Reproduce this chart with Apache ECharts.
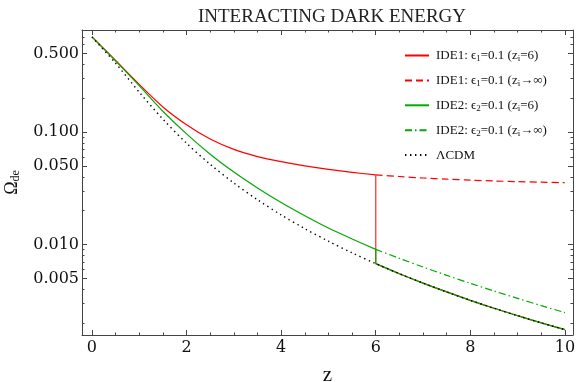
<!DOCTYPE html>
<html><head><meta charset="utf-8">
<script src="https://cdn.jsdelivr.net/npm/echarts@6/dist/echarts.min.js"></script>
<style>html,body{margin:0;padding:0;background:#fff}#c{width:576px;height:382px}</style>
</head><body><div id="c"></div>
<script>
// ---- data ----
const zHead = [0, 0.5, 1, 1.5, 2, 2.5, 3, 3.5, 4, 4.5, 5, 5.5, 6];
const ide1Head = [0.700, 0.432, 0.265, 0.167, 0.1160, 0.0865, 0.0700, 0.0605, 0.0545, 0.0500, 0.0465, 0.0438, 0.0415];
const ide2Head = [0.700, 0.429, 0.258, 0.153, 0.0962, 0.0635, 0.0440, 0.0318, 0.0236, 0.0180, 0.0140, 0.0112, 0.00906];
const zAll = [0, 0.5, 1, 1.5, 2, 2.5, 3, 3.5, 4, 4.5, 5, 5.5, 6, 6.5, 7, 7.5, 8, 8.5, 9, 9.5, 10];
const lcdm = [0.700, 0.409, 0.226, 0.130, 0.0795, 0.0516, 0.0352, 0.0250, 0.01832, 0.01383, 0.01069, 0.00843, 0.00676,
              0.00550, 0.00454, 0.00379, 0.00319, 0.00271, 0.00233, 0.00201, 0.00175];
const zTail = [6, 6.5, 7, 7.5, 8, 8.5, 9, 9.5, 10];
const ide1Tail = [0.0415, 0.0402, 0.0390, 0.0381, 0.0373, 0.0367, 0.0362, 0.0358, 0.0354];
const ide2Tail = [0.00906, 0.00753, 0.00631, 0.00532, 0.00452, 0.00386, 0.00332, 0.00286, 0.00248];
const zSwitch = 6;
const xMajorTicks = [0, 2, 4, 6, 8, 10];
const xMinorTicks = [0.5, 1, 1.5, 2.5, 3, 3.5, 4.5, 5, 5.5, 6.5, 7, 7.5, 8.5, 9, 9.5];
const yMajorTicks = [0.005, 0.01, 0.05, 0.1, 0.5];
const yMinorTicks = [0.002, 0.003, 0.004, 0.006, 0.007, 0.008, 0.009, 0.02, 0.03, 0.04, 0.06, 0.07, 0.08, 0.09, 0.2, 0.3, 0.4, 0.6, 0.7, 0.8];
const titleText = 'INTERACTING DARK ENERGY';
const names = ['IDE1a', 'IDE1b', 'IDE2a', 'IDE2b', 'LCDM'];
const legendLabels = {
  IDE1a: '{n|IDE1: ϵ}{s|1}{n|=0.1 (z}{s|i}{n|=6)}',
  IDE1b: '{n|IDE1: ϵ}{s|1}{n|=0.1 (z}{s|i}{n|→∞)}',
  IDE2a: '{n|IDE2: ϵ}{s|2}{n|=0.1 (z}{s|i}{n|=6)}',
  IDE2b: '{n|IDE2: ϵ}{s|2}{n|=0.1 (z}{s|i}{n|→∞)}',
  LCDM: '{n|ΛCDM}'
};

// ---- layout / style ----
const XMIN = -0.21, XMAX = 10.17;
const YMIN = 0.001569, YMAX = 0.8065;
const FRAME = '#444';
const TXT = '#111';
const SERIF = "'Liberation Serif','DejaVu Serif',serif";
const TICKFONT = "'DejaVu Serif',serif";
const RED = '#ff0000', GREEN = '#00aa00';

const pairs = (xs, ys) => xs.map((x, i) => [x, ys[i]]);
const iSw = zAll.indexOf(zSwitch);
const lcdmTail = pairs(zAll.slice(iSw), lcdm.slice(iSw));
const lcdmAtSwitch = lcdm[iSw];
const L10 = v => Math.log10(v);

function xAx(pos, major) {
  return {
    type: 'value', min: XMIN, max: XMAX, position: pos,
    axisLine: { show: major, onZero: false, lineStyle: { color: FRAME, width: 1 } },
    axisTick: { show: true, inside: true, length: major ? 5 : 2.5, customValues: major ? xMajorTicks : xMinorTicks, lineStyle: { color: FRAME, width: 1 } },
    axisLabel: (major && pos === 'bottom') ? { show: true, customValues: xMajorTicks, fontFamily: TICKFONT, fontSize: 16, color: TXT, margin: 5 } : { show: false },
    splitLine: { show: false }
  };
}
function yAx(pos, major) {
  return {
    type: 'value', min: L10(YMIN), max: L10(YMAX), position: pos,
    axisLine: { show: major, onZero: false, lineStyle: { color: FRAME, width: 1 } },
    axisTick: { show: true, inside: true, length: major ? 5 : 2.5, customValues: (major ? yMajorTicks : yMinorTicks).map(L10), lineStyle: { color: FRAME, width: 1 } },
    axisLabel: (major && pos === 'left') ? { show: true, customValues: yMajorTicks.map(L10), formatter: v => Math.pow(10, v).toFixed(3), fontFamily: TICKFONT, fontSize: 16, color: TXT, margin: 3 } : { show: false },
    splitLine: { show: false }
  };
}

const xAxes = [xAx('bottom', true), xAx('bottom', false), xAx('top', true), xAx('top', false)];
xAxes[0].name = 'z';
xAxes[0].nameLocation = 'middle';
xAxes[0].nameGap = 30;
xAxes[0].nameTextStyle = { fontFamily: SERIF, fontSize: 21, color: TXT };

const yAxes = [
  { type: 'log', logBase: 10, min: YMIN, max: YMAX, show: false },
  yAx('left', true), yAx('left', false), yAx('right', true), yAx('right', false)
];
yAxes[1].name = '{o|Ω}{d|de}';
yAxes[1].nameLocation = 'middle';
yAxes[1].nameRotate = 90;
yAxes[1].nameGap = 56;
yAxes[1].nameTextStyle = {
  rich: {
    o: { fontFamily: SERIF, fontSize: 18, color: TXT, lineHeight: 20 },
    d: { fontFamily: SERIF, fontSize: 12, color: TXT, lineHeight: 12, verticalAlign: 'bottom' }
  }
};

function line(name, data, color, type, width, smooth, z) {
  return {
    type: 'line', name, data, smooth: smooth ? 0.3 : false, symbol: 'none', xAxisIndex: 0, yAxisIndex: 0,
    lineStyle: { color, type, width }, itemStyle: { color }, z, silent: true, animation: false
  };
}

const series = [
  line('IDE1a', pairs(zHead, ide1Head), RED, 'solid', 1.2, true, 2),
  line('IDE1a', [[zSwitch, ide1Head[ide1Head.length - 1]], [zSwitch, lcdmAtSwitch]], '#ff3b3b', 'solid', 1.3, false, 2),
  line('IDE1a', lcdmTail, RED, 'solid', 1.2, true, 2),
  line('IDE1b', pairs(zTail, ide1Tail), RED, [7, 4], 1.2, true, 3),
  line('IDE2a', pairs(zHead, ide2Head), GREEN, 'solid', 1.2, true, 4),
  line('IDE2a', [[zSwitch, ide2Head[ide2Head.length - 1]], [zSwitch, lcdmAtSwitch]], GREEN, 'solid', 1.2, false, 4),
  line('IDE2a', lcdmTail, GREEN, 'solid', 1.2, true, 4),
  line('IDE2b', pairs(zTail, ide2Tail), GREEN, [7, 3, 1.5, 3], 1.2, true, 5),
  line('LCDM', pairs(zAll, lcdm), '#000', [1.4, 3.6], 1.4, true, 6)
];

const chart = echarts.init(document.getElementById('c'), null, { renderer: 'canvas' });
chart.setOption({
  animation: false,
  backgroundColor: '#fff',
  title: {
    text: titleText, left: 327, top: 3, textAlign: 'center',
    textStyle: { fontFamily: SERIF, fontSize: 19, fontWeight: 'normal', color: '#222' }
  },
  grid: { left: 82, right: 3, top: 30, bottom: 47, containLabel: false, outerBoundsMode: 'none' },
  legend: {
    data: names, orient: 'vertical', left: 404, top: 49, padding: 0, itemGap: 10.4,
    itemWidth: 24, itemHeight: 10, selectedMode: false,
    itemStyle: { opacity: 0, color: 'rgba(0,0,0,0)', borderWidth: 0 },
    formatter: n => legendLabels[n],
    textStyle: {
      padding: [0, 0, 0, 2],
      rich: {
        n: { fontFamily: SERIF, fontSize: 13, color: TXT, lineHeight: 16 },
        s: { fontFamily: SERIF, fontSize: 9, color: TXT, lineHeight: 10, verticalAlign: 'bottom' }
      }
    }
  },
  xAxis: xAxes,
  yAxis: yAxes,
  series
});
</script></body></html>
